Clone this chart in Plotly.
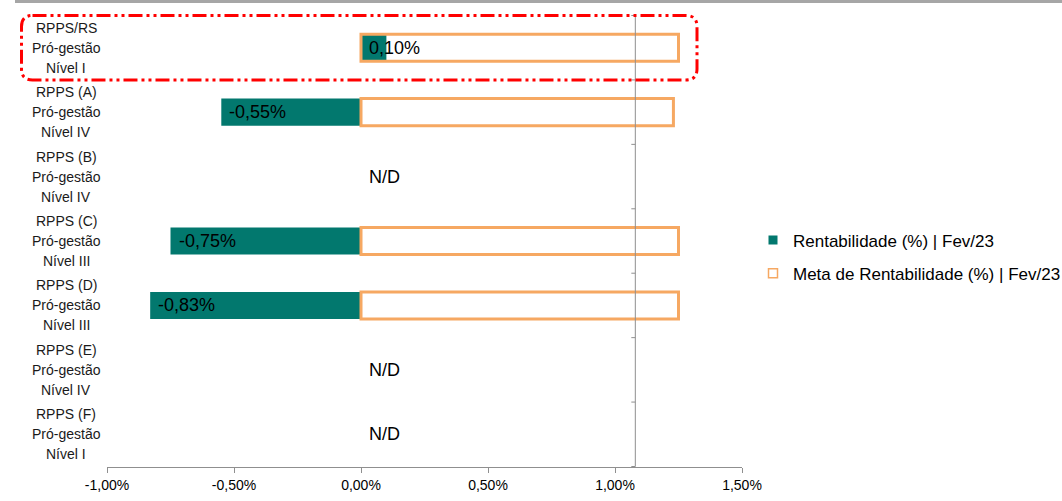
import plotly.graph_objects as go

# --- data -------------------------------------------------------------
categories = [
    "RPPS/RS|Pró-gestão|Nível I",
    "RPPS (A)|Pró-gestão|Nível IV",
    "RPPS (B)|Pró-gestão|Nível IV",
    "RPPS (C)|Pró-gestão|Nível III",
    "RPPS (D)|Pró-gestão|Nível III",
    "RPPS (E)|Pró-gestão|Nível IV",
    "RPPS (F)|Pró-gestão|Nível I",
]
rentabilidade = [0.10, -0.55, None, -0.75, -0.83, None, None]   # % in Fev/23
meta = [1.25, 1.23, None, 1.25, 1.25, None, None]               # % in Fev/23
x_ticks = [-1.0, -0.5, 0.0, 0.5, 1.0, 1.5]
axis_cross = 1.08           # where the category axis crosses the value axis

series_names = ["Rentabilidade (%) | Fev/23", "Meta de Rentabilidade (%) | Fev/23"]

# --- style ------------------------------------------------------------
TEAL = "#02786E"
ORANGE = "#F6A862"
GRAY = "#8F8F8F"
FONT = "Liberation Sans, Arial, sans-serif"

W, H = 1062, 501
ML, MR, MT, MB = 107, 320, 15, 34
PW, PH = W - ML - MR, H - MT - MB


def px_x(p):
    return (p - ML) / PW


def px_y(p):
    return (H - MB - p) / PH


def fmt(v):
    return f"{v:.2f}".replace(".", ",") + "%"


fig = go.Figure()

fig.add_trace(go.Bar(
    y=categories, x=rentabilidade, orientation="h", name=series_names[0],
    marker=dict(color=TEAL, line=dict(width=0)), width=0.42, showlegend=False,
))
fig.add_trace(go.Bar(
    y=categories, x=meta, orientation="h", name=series_names[1],
    marker=dict(color="rgba(255,255,255,0)", line=dict(color=ORANGE, width=3)),
    width=0.42, showlegend=False,
))

# legend keys: small squares, as in the chart's legend
fig.add_trace(go.Scatter(
    x=[None], y=[None], mode="markers", name=series_names[0], legendgroup="a",
    marker=dict(symbol="square", size=9, color=TEAL, line=dict(width=0)),
))
fig.add_trace(go.Scatter(
    x=[None], y=[None], mode="markers", name=series_names[1], legendgroup="b",
    marker=dict(symbol="square", size=9, color="white",
                line=dict(color=ORANGE, width=1.5)),
))

annotations = []
# value labels ("N/D" where there is no data)
for cat, v in zip(categories, rentabilidade):
    annotations.append(dict(
        x=0 if v is None else min(v, 0), y=cat, xref="x", yref="y",
        text="N/D" if v is None else fmt(v), showarrow=False,
        xanchor="left", xshift=6, font=dict(family=FONT, size=18, color="#000000"),
    ))
# three-line category labels
for cat in categories:
    for line, shift in zip(cat.split("|"), (20, 0, -20)):
        annotations.append(dict(
            x=px_x(66), y=cat, xref="paper", yref="y", text=line,
            showarrow=False, xanchor="center", yshift=shift,
            font=dict(family=FONT, size=14, color="#1A1A1A"),
        ))

shapes = []
# category axis line with boundary ticks
shapes.append(dict(type="line", xref="x", yref="y", x0=axis_cross, x1=axis_cross,
                   y0=-0.5, y1=len(categories) - 0.5, line=dict(color=GRAY, width=1)))
for i in range(len(categories) + 1):
    shapes.append(dict(type="line", xref="x", yref="y", xsizemode="pixel",
                       xanchor=axis_cross, x0=-4, x1=0, y0=i - 0.5, y1=i - 0.5,
                       line=dict(color=GRAY, width=1)))
# header rule
shapes.append(dict(type="rect", xref="paper", yref="paper", x0=px_x(15), x1=px_x(W),
                   y0=px_y(3), y1=px_y(-1), fillcolor="#A6A6A6", line=dict(width=0),
                   layer="above"))
# highlight frame around the first row
x0, x1, y0, y1 = px_x(21.5), px_x(697), px_y(80), px_y(15.5)
rx, ry = 11 / PW, 11 / PH
path = (f"M {x0+rx},{y1} L {x1-rx},{y1} Q {x1},{y1} {x1},{y1-ry} "
        f"L {x1},{y0+ry} Q {x1},{y0} {x1-rx},{y0} L {x0+rx},{y0} "
        f"Q {x0},{y0} {x0},{y0+ry} L {x0},{y1-ry} Q {x0},{y1} {x0+rx},{y1} Z")
shapes.append(dict(type="path", xref="paper", yref="paper", path=path,
                   line=dict(color="#FF0000", width=3,
                             dash="14px,4px,3px,4px,3px,4px")))

fig.update_layout(
    width=W, height=H, margin=dict(l=ML, r=MR, t=MT, b=MB, autoexpand=False),
    paper_bgcolor="white", plot_bgcolor="white",
    barmode="overlay",
    font=dict(family=FONT, color="#000000"),
    xaxis=dict(range=[x_ticks[0], x_ticks[-1]], tickvals=x_ticks,
               ticktext=[fmt(t) for t in x_ticks], showgrid=False, zeroline=False,
               showline=True, linecolor=GRAY, linewidth=1, ticks="outside",
               ticklen=5, tickcolor=GRAY, tickfont=dict(size=14, color="#000000")),
    yaxis=dict(categoryorder="array", categoryarray=categories, autorange="reversed",
               showticklabels=False, showgrid=False, zeroline=False, showline=False,
               ticks=""),
    legend=dict(x=px_x(753), y=px_y(257), xanchor="left", yanchor="middle",
                font=dict(family=FONT, size=17, color="#000000"),
                bgcolor="rgba(0,0,0,0)", tracegroupgap=8, itemwidth=30),
    annotations=annotations, shapes=shapes, showlegend=True,
)

fig.write_html("out.html")
